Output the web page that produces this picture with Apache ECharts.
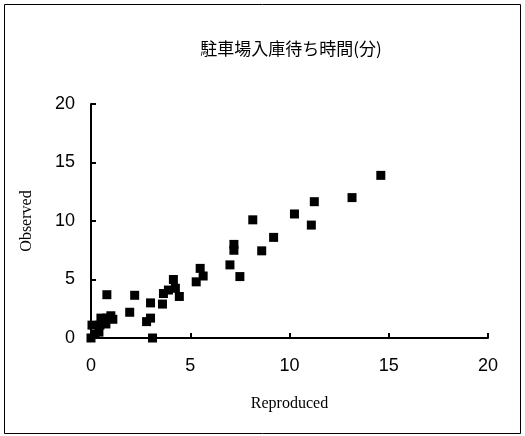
<!DOCTYPE html>
<html><head><meta charset="utf-8">
<script src="https://cdn.jsdelivr.net/npm/echarts@6/dist/echarts.min.js"></script>
<style>html,body{margin:0;padding:0;background:#fff}#c{width:525px;height:436px}</style>
</head><body><div id="c"></div>
<script>
var titleText = '駐車場入庫待ち時間(分)';
var xName = 'Reproduced';
var yName = 'Observed';
var xTicks = [0, 5, 10, 15, 20];
var yTicks = [0, 5, 10, 15, 20];
var reproduced = [0.0, 0.05, 0.2, 0.4, 0.45, 0.5, 0.8, 1.1, 0.75, 1.0, 0.8, 1.95, 2.2, 2.8, 3.0, 3.0, 3.6, 3.65, 3.9, 4.15, 4.25, 4.45, 3.1, 5.3, 5.5, 5.65, 7.0, 7.2, 7.2, 7.5, 8.15, 8.6, 9.2, 10.25, 11.1, 11.25, 13.15, 14.6];
var observed   = [0.0, 1.1, 0.3, 0.5, 1.1, 1.7, 1.7, 1.6, 1.2, 1.9, 3.7, 2.2, 3.65, 1.4, 1.7, 3.0, 2.9, 3.8, 4.1, 5.0, 4.25, 3.55, 0.0, 4.8, 5.95, 5.3, 6.25, 8.0, 7.5, 5.25, 10.1, 7.45, 8.6, 10.6, 9.65, 11.65, 12.0, 13.9];

var pts = reproduced.map(function(x, i){ return [x, observed[i]]; });
var chart = echarts.init(document.getElementById('c'));
var axisCommon = {
  type: 'value', min: 0, max: 20, interval: 5,
  axisLine: {show: true, lineStyle: {color: '#000', width: 2}},
  axisTick: {show: true, inside: true, length: 5, lineStyle: {color: '#000', width: 2}},
  splitLine: {show: false},
  axisLabel: {color: '#000', fontSize: 18, fontFamily: 'Liberation Sans, Arial, sans-serif'},
  nameLocation: 'middle'
};
chart.setOption({
  animation: false,
  backgroundColor: '#fff',
  title: {text: titleText, left: 286, top: 35, textAlign: 'center',
    textStyle: {fontSize: 17, fontWeight: 'normal', color: '#000', fontFamily: 'Noto Sans CJK JP'}},
  grid: {left: 91, right: 37, top: 104, bottom: 98, containLabel: false},
  xAxis: Object.assign({}, axisCommon, {
    name: xName, nameGap: 58,
    nameTextStyle: {fontSize: 16, color: '#000', fontFamily: 'Liberation Serif, Times New Roman, serif'},
    axisLabel: Object.assign({}, axisCommon.axisLabel, {margin: 19})
  }),
  yAxis: Object.assign({}, axisCommon, {
    name: yName, nameGap: 56,
    nameTextStyle: {fontSize: 16, color: '#000', fontFamily: 'Liberation Serif, Times New Roman, serif'},
    axisLabel: Object.assign({}, axisCommon.axisLabel, {margin: 16})
  }),
  graphic: [{type: 'rect', shape: {x: 4.5, y: 4.5, width: 516, height: 429},
    style: {fill: 'none', stroke: '#000', lineWidth: 1}, silent: true, z: -1}],
  series: [{type: 'scatter', symbol: 'rect', symbolSize: 9, data: pts,
    itemStyle: {color: '#000', opacity: 1}}]
});
</script></body></html>
